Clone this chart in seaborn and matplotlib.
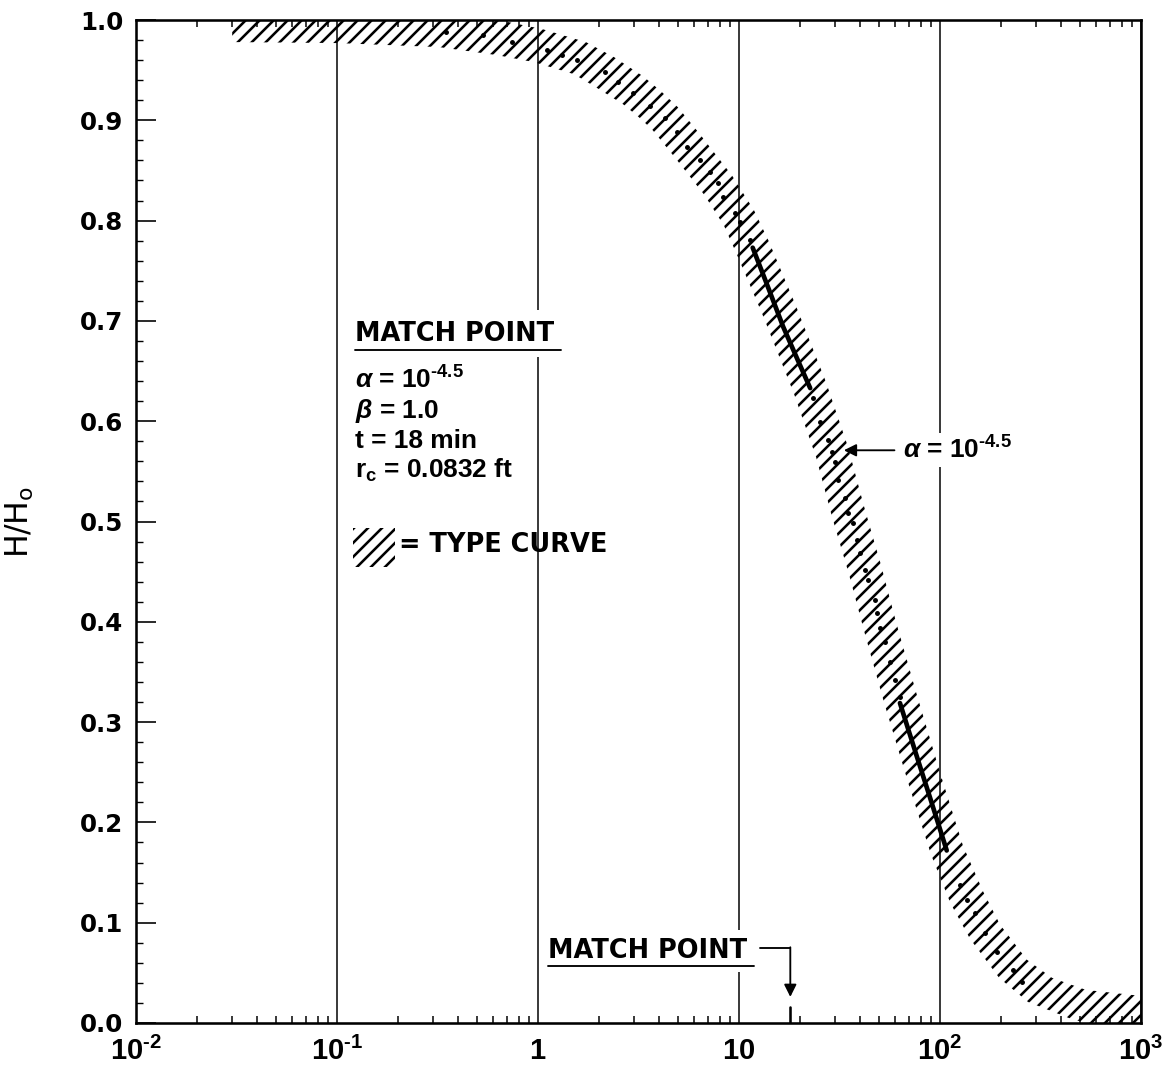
import numpy as np
import matplotlib
matplotlib.use("Agg")
import matplotlib.pyplot as plt
from matplotlib.patches import Rectangle
from matplotlib.ticker import MultipleLocator, FixedLocator, LogLocator, NullFormatter
import seaborn as sns

# %% data
# observed head ratio (dots)
obs_time = [0.35, 0.53, 0.74, 1.11, 1.32, 1.56, 2.15, 2.50, 2.97, 3.61, 4.28, 4.92,
            5.51, 6.40, 7.17, 7.86, 8.32, 9.55, 10.1, 11.3,
            23.3, 25.3, 27.7, 29.0, 30.0, 31.1, 33.7, 34.9, 36.9, 38.6, 40.0, 42.4,
            43.8, 47.5, 48.6, 50.3, 53.2, 56.4, 59.7, 63.2,
            126, 136, 149, 167, 192, 231, 256]
obs_ratio = [0.988, 0.985, 0.978, 0.970, 0.965, 0.960, 0.948, 0.938, 0.927, 0.914, 0.902, 0.888,
             0.873, 0.860, 0.848, 0.837, 0.824, 0.808, 0.799, 0.781,
             0.623, 0.599, 0.581, 0.569, 0.559, 0.541, 0.523, 0.508, 0.499, 0.482, 0.469, 0.452,
             0.442, 0.422, 0.409, 0.394, 0.380, 0.360, 0.342, 0.325,
             0.138, 0.123, 0.110, 0.090, 0.071, 0.053, 0.041]

# densely sampled stretches (drawn as solid lines)
seg1_time = [11.7, 13.8, 16.6, 20.1, 22.6]
seg1_ratio = [0.773, 0.736, 0.694, 0.656, 0.633]
seg2_time = [63.2, 76.9, 89.1, 108]
seg2_ratio = [0.319, 0.265, 0.225, 0.172]

# type curve band, alpha = 10^-4.5
band_upper_t = [0.0301, 0.1008, 0.329, 0.670, 1.047, 1.73, 2.39, 3.33, 4.09, 4.97, 6.40,
                9.23, 11.9, 14.1, 19.2, 27.1, 34.9, 41.9, 50.8, 60.4, 76.0, 101, 130,
                164, 199, 271, 361, 532, 1000]
band_upper_h = [1.02, 1.02, 1.007, 0.999, 0.991, 0.978, 0.963, 0.944, 0.929, 0.913, 0.886,
                0.845, 0.810, 0.779, 0.715, 0.639, 0.574, 0.515, 0.457, 0.400, 0.330, 0.247,
                0.177, 0.131, 0.098, 0.063, 0.045, 0.033, 0.027]
band_lower_t = [0.0301, 0.1008, 0.322, 0.625, 0.955, 1.51, 1.94, 2.65, 3.18, 3.69, 4.75,
                6.70, 8.42, 9.77, 13.3, 18.8, 24.2, 29.0, 35.3, 41.9, 52.6, 70.1, 90.2,
                113, 141, 197, 274, 464, 1000]
band_lower_h = [0.978, 0.977, 0.973, 0.965, 0.958, 0.946, 0.933, 0.916, 0.903, 0.891, 0.864,
                0.826, 0.795, 0.766, 0.703, 0.627, 0.564, 0.505, 0.447, 0.391, 0.320, 0.237,
                0.168, 0.119, 0.084, 0.045, 0.021, 0.003, -0.01]

match_time = 18

xtick_vals = [1e-2, 1e-1, 1, 10, 1e2, 1e3]
xtick_labels = ["$10^{\u20102}$", "$10^{\u20101}$", "$1$", "$10$", "$10^{2}$", "$10^{3}$"]
ytick_vals = [0.0, 0.1, 0.2, 0.3, 0.4, 0.5, 0.6, 0.7, 0.8, 0.9, 1.0]

# %% style
DPI = 84
sns.set_style("ticks")
plt.rcParams.update({
    "font.family": ["DejaVu Sans"],
    "font.weight": "bold",
    "font.size": 22,
    "text.color": "black",
    "axes.labelcolor": "black",
    "xtick.color": "black",
    "ytick.color": "black",
    "mathtext.fontset": "custom",
    "mathtext.rm": "Liberation Sans:bold",
    "mathtext.it": "Liberation Sans:italic:bold",
    "mathtext.bf": "Liberation Sans:bold",
    "mathtext.sf": "DejaVu Sans:normal",
    "mathtext.default": "rm",
    "hatch.linewidth": 2.2,
    "hatch.color": "black",
})
body = dict(family=["Liberation Sans"], fontsize=22.5, fontweight="bold")

fig, ax = plt.subplots(figsize=(1165 / DPI, 1072 / DPI), dpi=DPI)
fig.subplots_adjust(left=136 / 1165, right=1141 / 1165, top=1 - 20 / 1072, bottom=1 - 1023 / 1072)
ax.set_xscale("log")
ax.set_xlim(1e-2, 1e3)
ax.set_ylim(0, 1.0)

# hatched type curve
poly_t = np.concatenate([band_upper_t, band_lower_t[::-1]])
poly_h = np.concatenate([band_upper_h, band_lower_h[::-1]])
ax.fill(poly_t, poly_h, facecolor="none", edgecolor="black", hatch="//", linewidth=0, zorder=2)

# observations
sns.lineplot(x=seg1_time, y=seg1_ratio, sort=False, estimator=None, color="black", lw=4, ax=ax, zorder=4)
sns.lineplot(x=seg2_time, y=seg2_ratio, sort=False, estimator=None, color="black", lw=4, ax=ax, zorder=4)
sns.scatterplot(x=obs_time, y=obs_ratio, s=18, color="black", linewidth=0, ax=ax, zorder=4)

# axes
ax.xaxis.set_major_locator(FixedLocator(xtick_vals))
ax.set_xticklabels(xtick_labels, fontsize=25)
ax.xaxis.set_minor_locator(LogLocator(base=10, subs=np.arange(2, 10)))
ax.xaxis.set_minor_formatter(NullFormatter())
ax.set_yticks(ytick_vals)
ax.set_yticklabels([f"{v:.1f}" for v in ytick_vals])
ax.yaxis.set_minor_locator(MultipleLocator(0.02))
ax.grid(axis="x", which="major", color="black", lw=1.3, zorder=1)
ax.set_axisbelow(True)
ax.tick_params(axis="x", which="major", length=0, pad=12)
ax.tick_params(axis="x", which="minor", direction="in", length=6, width=1.3, top=True, bottom=True)
ax.tick_params(axis="y", which="major", direction="in", length=17, width=1.4, pad=11, labelsize=21,
               left=True, right=False)
ax.tick_params(axis="y", which="minor", direction="in", length=6, width=1.2, left=True, right=False)
for sp in ax.spines.values():
    sp.set_linewidth(2.2)
    sp.set_color("black")

ax.set_ylabel(r"H/H$_{\mathsf{o}}$", fontweight="normal", fontsize=27)
ax.yaxis.set_label_coords(-0.1, 0.5)

# match point block
ax.text(0.218, 0.680, "MATCH POINT", transform=ax.transAxes, ha="left", va="baseline",
        zorder=5, bbox=dict(facecolor="white", edgecolor="none", pad=9))
ax.plot([0.218, 0.423], [0.671, 0.671], transform=ax.transAxes, color="black", lw=1.6, zorder=6)
ax.text(0.218, 0.633, "$\\mathit{\\alpha}$ = 10$^{\u20104.5}$", transform=ax.transAxes,
        va="baseline", zorder=5, **body)
ax.text(0.218, 0.603, r"$\mathit{\beta}$ = 1.0", transform=ax.transAxes, va="baseline", zorder=5, **body)
ax.text(0.218, 0.573, "t = 18 min", transform=ax.transAxes, va="baseline", zorder=5, **body)
ax.text(0.218, 0.544, r"r$_{\mathrm{c}}$ = 0.0832 ft", transform=ax.transAxes, va="baseline", zorder=5, **body)
ax.add_patch(Rectangle((0.216, 0.455), 0.042, 0.039, transform=ax.transAxes, facecolor="none",
                       edgecolor="black", hatch="//", linewidth=0, zorder=5))
ax.text(0.262, 0.470, "= TYPE CURVE", transform=ax.transAxes, va="baseline", zorder=5)

# curve label
ax.text(0.763, 0.563, "$\\mathit{\\alpha}$ = 10$^{\u20104.5}$", transform=ax.transAxes, va="baseline",
        zorder=5, bbox=dict(facecolor="white", edgecolor="none", pad=3), **body)
ax.annotate("", xy=(0.702, 0.571), xytext=(0.757, 0.571), xycoords="axes fraction",
            arrowprops=dict(arrowstyle="-|>", color="black", lw=1.6, mutation_scale=22), zorder=5)

# lower match point marker
ax.text(0.410, 0.0648, "MATCH POINT", transform=ax.transAxes, va="baseline",
        zorder=5, bbox=dict(facecolor="white", edgecolor="none", pad=7))
ax.plot([0.410, 0.615], [0.0568, 0.0568], transform=ax.transAxes, color="black", lw=1.6, zorder=6)
ax.plot([12.7, match_time], [0.0748, 0.0748], color="black", lw=1.6, zorder=6)
ax.annotate("", xy=(match_time, 0.026), xytext=(match_time, 0.0755),
            arrowprops=dict(arrowstyle="-|>", color="black", lw=1.6, mutation_scale=22, shrinkA=0, shrinkB=0),
            zorder=6)
ax.plot([match_time, match_time], [0.0, 0.016], color="black", lw=2.2, zorder=6)

fig.savefig("out.png", dpi=DPI)
